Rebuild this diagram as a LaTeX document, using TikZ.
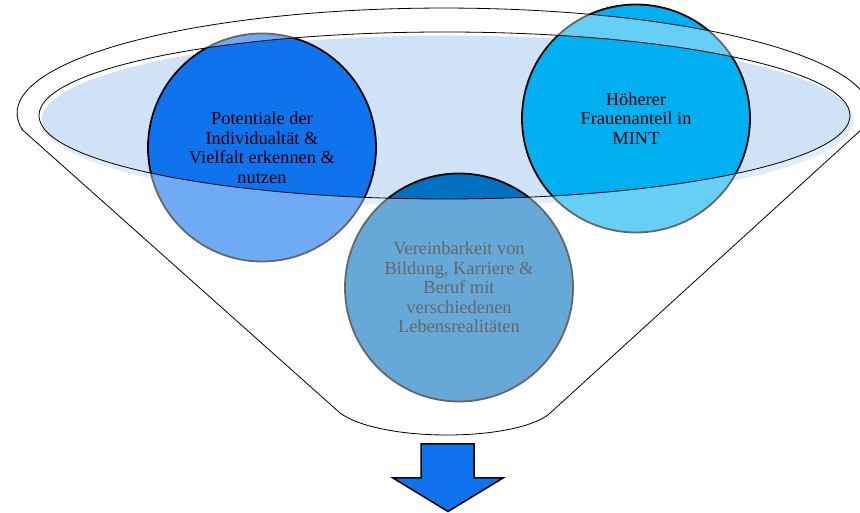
\documentclass[tikz,border=0pt]{standalone}
\usepackage{fontspec}
\setmainfont{Liberation Serif}
\definecolor{rimfill}{HTML}{CFE2F8}
\definecolor{cblue}{HTML}{0F73EE}
\definecolor{cdark}{HTML}{0070C0}
\definecolor{ccyan}{HTML}{00B0F0}
\begin{document}
\begin{tikzpicture}[x=1pt,y=1pt,
  bubble/.style={circle, draw=black, line width=1.8pt, minimum size=228pt, inner sep=0pt,
    align=center, font=\fontsize{18.4}{19.5}\selectfont, text=black},
  funnelline/.style={draw=black, line width=0.8pt},
  arrowshape/.style={fill=cblue, draw=black, line width=1.5pt, line join=miter}]
\useasboundingbox (0,0) rectangle (860,513);
\clip (0,0) rectangle (860,513);
% light fill of the funnel mouth
\fill[rimfill] (447.5,392.5) ellipse[x radius=406, y radius=85];
% circles
\node[bubble, fill=cblue] (c1) at (262,365.5) {Potentiale der\\Individualtät \&\\Vielfalt erkennen \&\\nutzen};
\node[bubble, fill=ccyan] (c2) at (636,394.5) {Höherer\\Frauenanteil in\\MINT};
\node[bubble, fill=cdark] (c3) at (459,225.5) {Vereinbarkeit von\\Bildung, Karriere \&\\Beruf mit\\verschiedenen\\Lebensrealitäten};
% translucent funnel body
\fill[white, fill opacity=0.4, even odd rule]
  (22.6,383) -- (340,100) .. controls (380,71) and (510,71) .. (548,98)
  -- (869.4,390.8) arc[start angle=-5, end angle=189.3, x radius=427, y radius=105] -- cycle
  (444.5,397.5) ellipse[x radius=405.5, y radius=83.5];
% funnel outlines
\draw[funnelline]
  (22.6,383) -- (340,100) .. controls (380,71) and (510,71) .. (548,98)
  -- (869.4,390.8) arc[start angle=-5, end angle=189.3, x radius=427, y radius=105] -- cycle;
\draw[funnelline] (444.5,397.5) ellipse[x radius=405.5, y radius=83.5];
% arrow
\draw[arrowshape] (421,69) -- (474,69) -- (474,35) -- (503,35) -- (448,1.5) -- (393,35) -- (421,35) -- cycle;
\end{tikzpicture}
\end{document}
